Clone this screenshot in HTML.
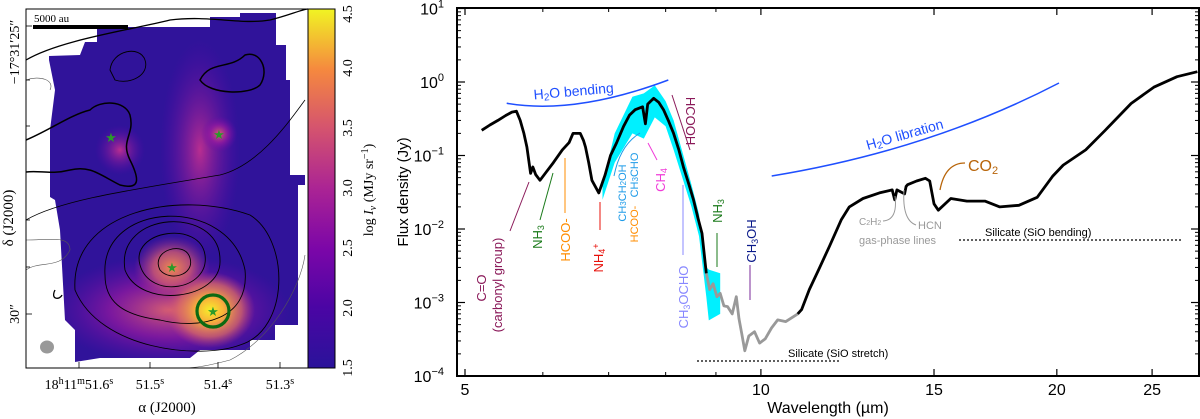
<!DOCTYPE html>
<html><head><meta charset="utf-8"><style>
html,body{margin:0;padding:0;background:#fff;width:1200px;height:419px;overflow:hidden}
svg{display:block;font-family:"Liberation Sans",sans-serif}
.serif{font-family:"Liberation Serif",serif}
</style></head><body>
<svg id="fig" width="1200" height="419" viewBox="0 0 1200 419">
<defs>
<linearGradient id="cbar" x1="0" y1="1" x2="0" y2="0">
<stop offset="0" stop-color="#2a139a"/><stop offset="0.17" stop-color="#4b05a4"/><stop offset="0.33" stop-color="#7b06a8"/><stop offset="0.5" stop-color="#ab2494"/><stop offset="0.67" stop-color="#d5546e"/><stop offset="0.83" stop-color="#f5883f"/><stop offset="1" stop-color="#f1f423"/>
</linearGradient>
<radialGradient id="g1"><stop offset="0" stop-color="#f6ee2a"/><stop offset="0.3" stop-color="#f9b33a"/><stop offset="0.7" stop-color="#e07060" stop-opacity="0.7"/><stop offset="1" stop-color="#c04080" stop-opacity="0"/></radialGradient>
<radialGradient id="g2"><stop offset="0" stop-color="#f08a50"/><stop offset="0.5" stop-color="#d05a70" stop-opacity="0.8"/><stop offset="1" stop-color="#a02a90" stop-opacity="0"/></radialGradient>
<radialGradient id="g3"><stop offset="0" stop-color="#d86070"/><stop offset="0.5" stop-color="#9a1aa0" stop-opacity="0.7"/><stop offset="1" stop-color="#6a08a8" stop-opacity="0"/></radialGradient>
<radialGradient id="g4"><stop offset="0" stop-color="#b82e90"/><stop offset="1" stop-color="#5a08a8" stop-opacity="0"/></radialGradient>
<clipPath id="mapclip"><polygon points="49,56 80,55 85,42 97,42 97,27 210,27 210,17 240,17 240,13 276,13 276,45 286,45 286,80 290,80 290,175 305,175 305,185 298,185 298,325 275,325 275,340 250,340 250,350 200,350 190,358 100,358 75,362 75,330 65,320 60,230 55,200 50,197 50,130 55,90 49,60"/></clipPath>
</defs>

<g>
<g clip-path="url(#mapclip)">
<rect x="26" y="9" width="282" height="359" fill="#30139a"/>
<ellipse cx="170" cy="310" rx="120" ry="55" fill="url(#g3)"/>
<ellipse cx="200" cy="150" rx="40" ry="110" fill="url(#g4)"/>
<ellipse cx="120" cy="150" rx="25" ry="25" fill="url(#g4)"/>
<ellipse cx="219" cy="134" rx="18" ry="18" fill="url(#g3)"/>
<ellipse cx="172" cy="268" rx="38" ry="32" fill="url(#g2)"/>
<ellipse cx="210" cy="310" rx="45" ry="38" fill="url(#g1)"/>
</g>
</g>
<g fill="none" stroke="#000">
<path d="M160,270 C150,250 185,240 190,258 C195,275 170,282 160,270Z" stroke-width="0.9"/>
<path d="M140,265 C130,230 200,220 205,255 C210,290 150,300 140,265Z" stroke-width="0.9"/>
<path d="M125,270 C115,210 220,205 220,260 C222,300 140,310 125,270Z" stroke-width="0.9"/>
<path d="M105,275 C100,200 230,195 245,270 C250,320 200,330 160,320 C120,315 105,300 105,275Z" stroke-width="0.9"/>
<path d="M75,290 C70,210 180,190 250,215 C290,240 290,330 240,345 C200,360 100,350 75,290Z" stroke-width="0.9"/>
<path d="M26,220 C60,200 130,190 220,175 C260,165 290,120 305,100" stroke-width="0.8"/>
<path d="M26,60 C60,40 130,30 170,20 C210,15 240,25 270,20 C290,15 300,10 308,9" stroke-width="1.3"/>
<path d="M110,70 C112,50 140,45 145,60 C150,75 130,85 115,80Z" stroke-width="0.9"/>
<path d="M200,80 C210,60 230,70 245,55 C260,50 270,70 260,85 C250,95 210,95 200,80Z" stroke-width="1.5"/>
<path d="M26,140 C50,130 70,115 90,110 C100,100 125,100 130,115 C135,135 120,140 130,160 C140,180 140,190 120,185 C100,175 90,165 70,170 C50,175 40,170 26,172" stroke-width="1.5"/>
<path d="M26,240 C50,240 70,235 70,250 C60,270 40,260 26,270" stroke-width="0.6" stroke="#555"/>
<path d="M305,255 C300,290 270,340 230,360 C200,368 190,368 180,368" stroke-width="0.6" stroke="#555"/>
<path d="M55,290 C50,300 60,300 62,295" stroke-width="1.3"/>
<path d="M26,80 C40,75 55,80 50,90" stroke-width="0.6" stroke="#555"/>
</g>
<g fill="#2a9a2a" font-size="13">
<text x="111" y="142" text-anchor="middle">★</text>
<text x="219" y="139" text-anchor="middle">★</text>
<text x="172" y="272" text-anchor="middle">★</text>
<text x="213" y="316" text-anchor="middle">★</text>
</g>
<circle cx="213" cy="311" r="16" fill="none" stroke="#0c6a12" stroke-width="3.2"/>
<ellipse cx="47" cy="347" rx="7" ry="6.5" fill="#999"/>
<rect x="33" y="25" width="95" height="4" fill="#000"/>
<text x="34" y="22" class="serif" font-size="11">5000 au</text>
<rect x="26" y="9" width="282" height="359" fill="none" stroke="#000" stroke-width="1"/>
<g stroke="#000" stroke-width="0.8">
<line x1="79" y1="368" x2="79" y2="362"/><line x1="150" y1="368" x2="150" y2="362"/><line x1="218" y1="368" x2="218" y2="362"/><line x1="280" y1="368" x2="280" y2="362"/>
<line x1="26" y1="26" x2="32" y2="26"/><line x1="26" y1="314" x2="32" y2="314"/>
<line x1="26" y1="80" x2="30" y2="80"/><line x1="26" y1="126" x2="30" y2="126"/><line x1="26" y1="172" x2="30" y2="172"/><line x1="26" y1="220" x2="30" y2="220"/><line x1="26" y1="267" x2="30" y2="267"/>
</g>
<g class="serif" font-size="14" fill="#000">
<text x="79" y="389" text-anchor="middle">18<tspan font-size="10" dy="-5">h</tspan><tspan dy="5">11</tspan><tspan font-size="10" dy="-5">m</tspan><tspan dy="5">51.6</tspan><tspan font-size="10" dy="-5">s</tspan></text>
<text x="150" y="389" text-anchor="middle">51.5<tspan font-size="10" dy="-5">s</tspan></text>
<text x="218" y="389" text-anchor="middle">51.4<tspan font-size="10" dy="-5">s</tspan></text>
<text x="280" y="389" text-anchor="middle">51.3<tspan font-size="10" dy="-5">s</tspan></text>
</g>
<text x="167" y="412" text-anchor="middle" class="serif" font-size="15">α (J2000)</text>
<text transform="translate(19,52) rotate(-90)" text-anchor="middle" class="serif" font-size="14">−17°31′25″</text>
<text transform="translate(19,314) rotate(-90)" text-anchor="middle" class="serif" font-size="14">30″</text>
<text transform="translate(13,218) rotate(-90)" text-anchor="middle" class="serif" font-size="15">δ (J2000)</text>
<rect x="308" y="9" width="27" height="359" fill="url(#cbar)" stroke="#000" stroke-width="1"/>
<g class="serif" font-size="14">
<text transform="translate(352,368) rotate(-90)" text-anchor="middle">1.5</text>
<text transform="translate(352,308) rotate(-90)" text-anchor="middle">2.0</text>
<text transform="translate(352,248) rotate(-90)" text-anchor="middle">2.5</text>
<text transform="translate(352,188) rotate(-90)" text-anchor="middle">3.0</text>
<text transform="translate(352,128) rotate(-90)" text-anchor="middle">3.5</text>
<text transform="translate(352,68) rotate(-90)" text-anchor="middle">4.0</text>
<text transform="translate(352,14) rotate(-90)" text-anchor="middle">4.5</text>
</g>
<text transform="translate(373,190) rotate(-90)" text-anchor="middle" class="serif" font-size="14">log <tspan font-style="italic">I<tspan font-size="10" dy="3">ν</tspan></tspan><tspan dy="-3"> (MJy sr</tspan><tspan font-size="10" dy="-5">−1</tspan><tspan dy="5">)</tspan></text>

<g id="spec"></g>
<rect x="457" y="8" width="742" height="368" fill="none" stroke="#000" stroke-width="2"/>
<text transform="translate(408,192) rotate(-90)" text-anchor="middle" font-size="15">Flux density (Jy)</text>
<text x="828" y="413" text-anchor="middle" font-size="16">Wavelength (µm)</text>

<g font-size="13">
<path d="M506.7,103.3 Q575,115 668.3,80" fill="none" stroke="#1f4fff" stroke-width="1.5"/>
<text transform="translate(574,96) rotate(-5)" text-anchor="middle" fill="#1f4fff" font-size="14">H<tspan font-size="10" dy="2">2</tspan><tspan dy="-2">O bending</tspan></text>
<path d="M771.7,176 Q930,150 1059,83" fill="none" stroke="#1f4fff" stroke-width="1.5"/>
<text transform="translate(906,139) rotate(-16)" text-anchor="middle" fill="#1f4fff" font-size="14">H<tspan font-size="10" dy="2">2</tspan><tspan dy="-2">O libration</tspan></text>
<line x1="510" y1="231" x2="529" y2="182" stroke="#8b1a5a"/>
<text transform="translate(486,288) rotate(-90)" text-anchor="middle" fill="#8b1a5a">C=O</text>
<text transform="translate(502,285) rotate(-90)" text-anchor="middle" fill="#8b1a5a">(carbonyl group)</text>
<line x1="540" y1="220" x2="553" y2="173" stroke="#1a7a1a"/>
<text transform="translate(542,237) rotate(-90)" text-anchor="middle" fill="#1a7a1a">NH<tspan font-size="9" dy="2">3</tspan></text>
<line x1="565" y1="158" x2="565" y2="213" stroke="#ff8c00"/>
<text transform="translate(570,240) rotate(-90)" text-anchor="middle" fill="#ff8c00">HCOO-</text>
<line x1="600" y1="202" x2="600" y2="230" stroke="#e8100a"/>
<text transform="translate(603,258) rotate(-90)" text-anchor="middle" fill="#e8100a">NH<tspan font-size="9" dy="2">4</tspan><tspan font-size="9" dy="-6">+</tspan></text>
<path d="M614,176 Q620,145 640,133" fill="none" stroke="#1e9be8"/>
<text transform="translate(626,193) rotate(-90)" text-anchor="middle" fill="#1e9be8" font-size="11">CH<tspan font-size="8">3</tspan>CH<tspan font-size="8">2</tspan>OH</text>
<text transform="translate(638,224) rotate(-90)" text-anchor="middle" fill="#ff8c00" font-size="11">HCOO-</text>
<text transform="translate(638,175) rotate(-90)" text-anchor="middle" fill="#1e9be8" font-size="11">CH<tspan font-size="8">3</tspan>CHO</text>
<line x1="657" y1="160" x2="648" y2="143" stroke="#f03cd8"/>
<text transform="translate(665,180) rotate(-90)" text-anchor="middle" fill="#f03cd8">CH<tspan font-size="9" dy="2">4</tspan></text>
<line x1="672" y1="95" x2="690" y2="150" stroke="#8b1a5a"/>
<text transform="translate(686,121) rotate(90)" text-anchor="middle" fill="#8b1a5a">HCOOH</text>
<line x1="683" y1="185" x2="683" y2="255" stroke="#8888ff"/>
<text transform="translate(688,297) rotate(-90)" text-anchor="middle" fill="#8888ff">CH<tspan font-size="9" dy="2">3</tspan><tspan dy="-2">OCHO</tspan></text>
<line x1="717" y1="233" x2="717" y2="267" stroke="#1a7a1a"/>
<text transform="translate(722,211) rotate(-90)" text-anchor="middle" fill="#1a7a1a">NH<tspan font-size="9" dy="2">3</tspan></text>
<line x1="750" y1="265" x2="750" y2="300" stroke="#7a2a9a"/>
<text transform="translate(756,241) rotate(-90)" text-anchor="middle" fill="#0a1a8a">CH<tspan font-size="9" dy="2">3</tspan><tspan dy="-2">OH</tspan></text>
<line x1="697" y1="361" x2="840" y2="361" stroke="#000" stroke-dasharray="2,2" stroke-width="1.2"/>
<text x="788" y="357" font-size="11">Silicate (SiO stretch)</text>
<line x1="959" y1="240" x2="1181" y2="240" stroke="#000" stroke-dasharray="2,2" stroke-width="1.2"/>
<text x="985" y="236" font-size="11">Silicate (SiO bending)</text>
<path d="M883,221 Q898,220 895,196" fill="none" stroke="#999"/>
<path d="M916,225 Q902,220 904,190" fill="none" stroke="#999"/>
<text x="859" y="225" font-size="10" fill="#999">C<tspan font-size="7">2</tspan>H<tspan font-size="7">2</tspan></text>
<text x="918" y="229" font-size="11" fill="#999">HCN</text>
<text x="859" y="244" font-size="11" fill="#999">gas-phase lines</text>
<path d="M965,163 Q945,163 940,190" fill="none" stroke="#b8650a" stroke-width="1.3"/>
<text x="968" y="171" font-size="16" fill="#b8650a">CO<tspan font-size="11" dy="3">2</tspan></text>
</g>
</svg>
<script>
var ns="http://www.w3.org/2000/svg";
var lamMain=[5.2,5.3,5.4,5.5,5.58,5.64,5.69,5.74,5.78,5.83,5.86,5.9,5.96,6.05,6.15,6.28,6.38,6.44,6.55,6.6,6.63,6.68,6.73,6.84,6.94,7.03,7.13,7.25,7.35,7.45,7.58,7.63,7.67,7.78,7.87,7.96,8.05,8.15,8.25,8.34,8.45,8.54,8.63,8.71,8.8];
var fluxMain=[0.22,0.26,0.3,0.35,0.39,0.4,0.3,0.2,0.13,0.057,0.07,0.055,0.046,0.06,0.08,0.119,0.15,0.2,0.2,0.16,0.13,0.08,0.046,0.031,0.054,0.1,0.148,0.25,0.355,0.42,0.46,0.27,0.5,0.6,0.53,0.42,0.3,0.2,0.12,0.07,0.04,0.025,0.014,0.0087,0.0025];
var lamGray=[8.8,8.87,8.94,9.02,9.09,9.17,9.25,9.35,9.44,9.5,9.56,9.63,9.72,9.85,9.97,10.1,10.25,10.4,10.6,10.9];
var fluxGray=[0.0025,0.0015,0.0018,0.0012,0.00133,0.0009,0.00088,0.0007,0.0012,0.0006,0.00038,0.00022,0.00035,0.0004,0.00028,0.00032,0.00045,0.00058,0.00055,0.0007];
var lamLong=[10.9,11.0,11.2,11.45,11.74,12.07,12.3,12.7,13.2,13.6,13.68,13.75,14.0,14.05,14.1,14.4,14.7,14.85,15.0,15.15,15.6,16.2,16.9,17.5,18.3,19.1,19.8,20.3,21.4,22.4,23.8,25.1,26.5,27.8];
var fluxLong=[0.0007,0.0008,0.0015,0.0028,0.0058,0.0133,0.02,0.026,0.031,0.034,0.025,0.034,0.03,0.038,0.04,0.045,0.049,0.045,0.022,0.018,0.026,0.024,0.024,0.02,0.021,0.027,0.052,0.074,0.119,0.22,0.51,0.85,1.18,1.38];
var lamBand=[6.9,7.1,7.4,7.6,7.8,8.0,8.15,8.34,8.5,8.65,8.8,8.85,9.09];
var bandUpper=[0.04,0.2,0.63,0.7,0.9,0.55,0.3,0.1,0.04,0.016,0.003,0.0028,0.0025];
var bandLower=[0.025,0.08,0.2,0.17,0.33,0.25,0.12,0.045,0.02,0.008,0.0012,0.00057,0.0007];
var xTicks=[5,10,15,20,25];
var yExps=[1,0,-1,-2,-3,-4];

function X(l){return 465+(Math.log10(l)-Math.log10(5))*983;}
function Y(f){return 8.5+(1-Math.log10(f))*73.5;}
var g=document.getElementById('spec');
function mk(t,a){var e=document.createElementNS(ns,t);for(var k in a)e.setAttribute(k,a[k]);g.appendChild(e);return e;}

var d='';
for(var i=0;i<lamBand.length;i++)d+=(i?'L':'M')+X(lamBand[i]).toFixed(1)+','+Y(bandUpper[i]).toFixed(1);
for(var i=lamBand.length-1;i>=0;i--)d+='L'+X(lamBand[i]).toFixed(1)+','+Y(bandLower[i]).toFixed(1);
var band=mk('path',{d:d+'Z',fill:'#00f0ff'});



function line(ls,fs,col,w,name){var p='';for(var i=0;i<ls.length;i++)p+=(i?'L':'M')+X(ls[i]).toFixed(1)+','+Y(fs[i]).toFixed(1);
var e=mk('path',{d:p,fill:'none',stroke:col,'stroke-width':w,'stroke-linejoin':'round'});

}
line(lamGray,fluxGray,'#999',2.8,'spectrum-low-snr');
line(lamMain,fluxMain,'#000',2.8,'spectrum-short');
line(lamLong,fluxLong,'#000',2.8,'spectrum-long');

xTicks.forEach(function(v){var x=X(v);
mk('line',{x1:x,y1:376,x2:x,y2:369,stroke:'#000','stroke-width':1.2});
mk('line',{x1:x,y1:8,x2:x,y2:15,stroke:'#000','stroke-width':1.2});
var t=mk('text',{x:x,y:395,'text-anchor':'middle','font-size':16});t.textContent=v;

});
[6,7,8,9].forEach(function(v){var x=X(v);mk('line',{x1:x,y1:376,x2:x,y2:372,stroke:'#000'});mk('line',{x1:x,y1:8,x2:x,y2:12,stroke:'#000'});});
yExps.forEach(function(e){var y=Y(Math.pow(10,e));
mk('line',{x1:457,y1:y,x2:465,y2:y,stroke:'#000','stroke-width':1.2});
mk('line',{x1:1199,y1:y,x2:1191,y2:y,stroke:'#000','stroke-width':1.2});
if(e>-4)for(var m=2;m<10;m++){var ym=Y(m*Math.pow(10,e-1));mk('line',{x1:457,y1:ym,x2:461,y2:ym,stroke:'#000'});mk('line',{x1:1199,y1:ym,x2:1195,y2:ym,stroke:'#000'});}
var t=mk('text',{x:444,y:y+6,'text-anchor':'end','font-size':16});
t.textContent='10';
var s=document.createElementNS(ns,'tspan');
s.setAttribute('font-size','11');s.setAttribute('dy','-7');
s.textContent=(e<0?'\u2212'+(-e):String(e));
t.appendChild(s);

});
</script>
</body></html>
